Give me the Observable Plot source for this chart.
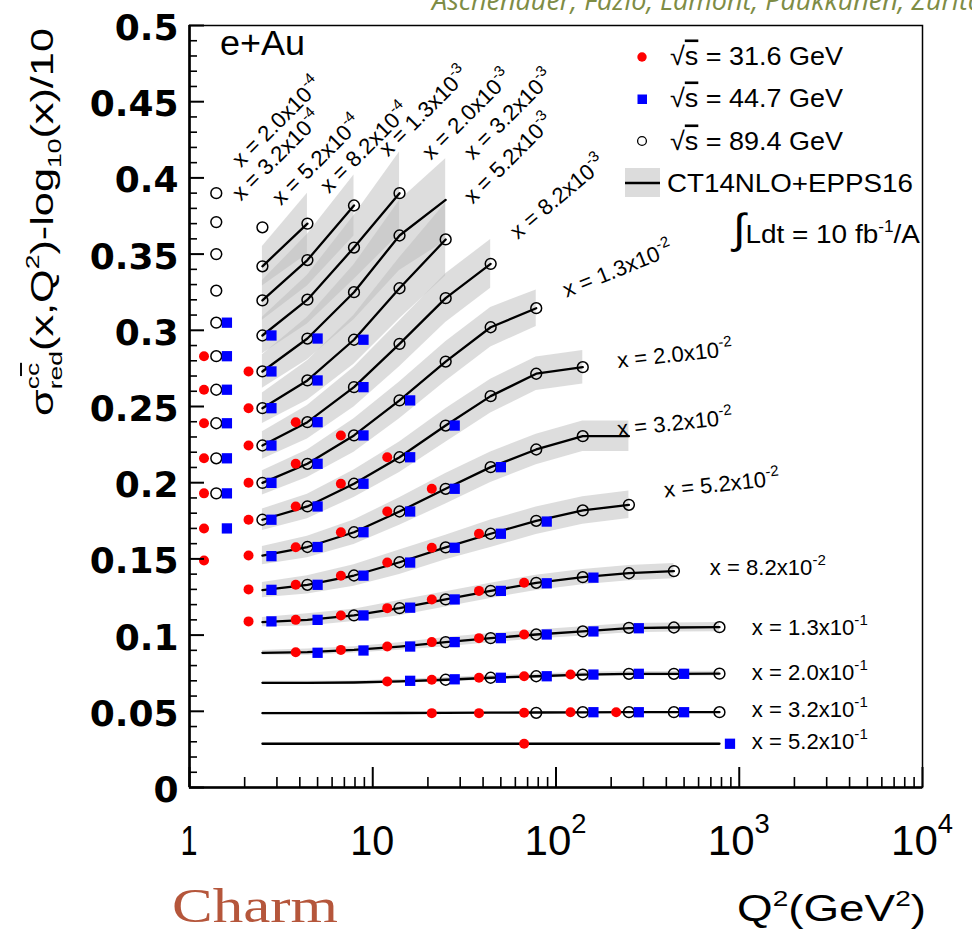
<!DOCTYPE html>
<html><head><meta charset="utf-8">
<script src="https://cdn.jsdelivr.net/npm/d3@7"></script>
<script src="https://cdn.jsdelivr.net/npm/@observablehq/plot@0.6"></script>
<style>body{margin:0;background:#fff;} #chart{position:relative;width:972px;height:931px;overflow:hidden;background:#fff;}</style>
</head><body><div id="chart"></div>
<script>
const _ = null;
// x bins (mantissa, exponent)
const xBinMant = ["2.0","3.2","5.2","8.2","1.3","2.0","3.2","5.2","8.2","1.3","2.0","3.2","5.2","8.2","1.3","2.0","3.2","5.2"];
const xBinExp  = [-4,-4,-4,-4,-3,-3,-3,-3,-3,-2,-2,-2,-2,-2,-1,-1,-1,-1];
// Q2 grids (GeV^2) for each beam energy
const q2Circ = [1.4, 2.5, 4.4, 7.9, 14, 25, 44, 78, 140, 250, 440, 780];   // sqrt(s)=89.4
const q2Red  = [1.2, 2.1, 3.8, 6.7, 12, 21, 38, 67, 120, 213, 380, 670];   // sqrt(s)=31.6
const q2Blue = [1.6, 2.8, 5.0, 8.9, 16, 28, 50, 89, 160, 283, 500, 890];   // sqrt(s)=44.7
// CT14NLO+EPPS16 central curve, one row per x bin, on q2Circ grid
const theory = [
 [],[],[],
 [_, .342, .370],
 [_, .3196, .3461, .3819],
 [_, .2966, .3201, .3543, .3900],
 [_, .2730, .2946, .3250, .3622, .3856],
 [_, .2489, .2671, .2938, .3276, .3596],
 [_, .2244, .2397, .2627, .2911, .3211, .3436],
 [_, .1999, .2124, .2310, .2540, .2795, .3020, .3145],
 [_, .1757, .1844, .1993, .2167, .2375, .2568, .2715, .2758],
 [_, .1522, .1578, .1675, .1811, .1960, .2102, .2218, .2305, .2305],
 [_, .1295, .1330, .1391, .1478, .1575, .1665, .1750, .1818, .1855],
 [_, .1085, .1100, .1129, .1177, .1234, .1290, .1343, .1380, .1406, .1420],
 [_, .0884, .0888, .0903, .0925, .0954, .0980, .1004, .1024, .1046, .1050, .1052],
 [_, .0687, .0687, .0689, .0696, .0707, .0720, .0730, .0741, .0746, .0746, .0747],
 [_, .0488, .0488, .0488, .0489, .0490, .0491, .0492, .0493, .0494, .0494, .0494],
 [_, .0287, .0287, .0287, .0287, .0287, .0287, .0287, .0287, .0287, .0287, .0287]
];
// half width of the uncertainty band
const bandHalf = [
 [],[],[],
 [_, .013, .020],
 [_, .013, .017, .020],
 [_, .012, .016, .021, .027],
 [_, .011, .014, .018, .023, .027],
 [_, .010, .013, .016, .020, .024],
 [_, .009, .011, .013, .015, .016, .016],
 [_, .008, .009, .011, .012, .013, .013, .012],
 [_, .007, .008, .009, .010, .011, .011, .011, .011],
 [_, .006, .007, .008, .009, .010, .010, .010, .010, .010],
 [_, .005, .006, .007, .008, .008, .009, .009, .009, .009],
 [_, .003, .004, .004, .005, .005, .005, .005, .005, .005, .005],
 [_, .0015, .002, .002, .0025, .003, .003, .003, .003, .003, .003, .003],
 [_, .001, .001, .001, .0012, .0015, .0015, .0015, .0015, .0015, .0015, .0015],
 [_, .0005, .0005, .0005, .0005, .0005, .0005, .0005, .0005, .0005, .0005, .0005],
 [_, .0005, .0005, .0005, .0005, .0005, .0005, .0005, .0005, .0005, .0005, .0005]
];
// pseudo-data, sqrt(s)=89.4 GeV (open circles), on q2Circ grid
const circVals = [
 [.390],
 [.371],
 [.350, .3676],
 [.326, .342, .370],
 [.305, .3196, .3461, .3819],
 [.283, .2966, .3201, .3543, .390],
 [.261, .273, .2946, .325, .3622],
 [.239, .2489, .2671, .2938, .3276, .3596],
 [.216, .2244, .2397, .2627, .2911, .3211, .3436],
 [.193, .1999, .2124, .231, .254, .2795, .302, .3145],
 [_, .1757, .1844, .1993, .2167, .2375, .2568, .2715, .2758],
 [_, _, .1578, .1675, .1811, .196, .2102, .2218, .2305],
 [_, _, .133, .1391, .1478, .1575, .1665, .175, .1818, .1855],
 [_, _, _, .1129, .1177, .1234, .129, .1343, .138, .1406, .142],
 [_, _, _, _, _, .0954, .098, .1004, .1024, .1048, .105, .1052],
 [_, _, _, _, _, .0707, .072, .073, .0741, .0746, .0746, .0747],
 [_, _, _, _, _, _, _, .049, .0494, .0494, .0494, .0494],
 []
];
// sqrt(s)=31.6 GeV (red dots), on q2Red grid
const redVals = [
 [],[],[],[],[],
 [.283],
 [.261, .273],
 [.239, .2489],
 [.216, .2244, .2397],
 [.193, .200, .2124, .231],
 [.170, .1757, .1844, .1993, .2167],
 [.149, .1522, .1577, .1675, .1811, .196],
 [_, .130, .133, .139, .1476, .1573, .1665],
 [_, .109, .110, .1129, .1177, .1234, .129, .1343],
 [_, _, .0888, .0903, .0925, .0954, .098, .1004],
 [_, _, _, _, .0696, .0707, .072, .073, .0741],
 [_, _, _, _, _, .0488, .0488, .049, .0494, .0494],
 [_, _, _, _, _, _, _, .0287]
];
// sqrt(s)=44.7 GeV (blue squares), on q2Blue grid
const blueVals = [
 [],[],[],[],
 [.305],
 [.283, .2966],
 [.261, .273, .2946],
 [.239, .2489, .2671, .2938],
 [.216, .2244, .2397, .2627],
 [.193, .1999, .2124, .231, .254],
 [.170, .1757, .1844, .1993, .2167, .2375],
 [_, .1518, .1578, .1675, .1811, .196, .2102],
 [_, .1297, .133, .139, .1476, .1573, .1665, .1745],
 [_, .109, .110, .1129, .118, .1234, .129, .134, .1377],
 [_, _, .0884, .0899, .0925, .0954, .098, .1004, .1024, .1045],
 [_, _, _, _, .070, .071, .072, .073, .0741, .0746, .0746],
 [_, _, _, _, _, _, _, _, .0494, .0494, .0494],
 [_, _, _, _, _, _, _, _, _, _, _, .0287]
];
// x-bin label anchors (Q2, y) and angle
const labelQ2 = [1.92, 1.92, 3.18, 5.80, 12.2, 20.9, 35.4, 35.4, 62.3, 115, 219, 219, 395, 695, 1178, 1178, 1178, 1178];
const labelY  = [0.406, 0.384, 0.381, 0.389, 0.413, 0.411, 0.411, 0.382, 0.359, 0.321, 0.275, 0.230, 0.190, 0.139, 0.0997, 0.0702, 0.0459, 0.0249];
const labelAngle = [-45,-45,-45,-45,-45,-45,-45,-45,-40,-22,-6,-6,-6,0,0,0,0,0];
// axis ticks
const yMajor = [0, 0.05, 0.1, 0.15, 0.2, 0.25, 0.3, 0.35, 0.4, 0.45, 0.5];
const yMinor = d3.range(0, 50).map(i => i / 100).filter(v => Math.round(v * 100) % 5 !== 0);
const xMajor = [1, 10, 100, 1000, 10000];
const xMajorExp = ["", "", "2", "3", "4"];
const xMinor = [1, 10, 100, 1000].flatMap(d => [2,3,4,5,6,7,8,9].map(m => m * d));

// ---- build tables
const lineData = [], bandData = [], circData = [], redData = [], blueData = [];
theory.forEach((row, b) => row.forEach((v, k) => {
  if (v != null) {
    lineData.push({b, q2: q2Circ[k], v});
    bandData.push({b, q2: q2Circ[k], lo: v - bandHalf[b][k], hi: v + bandHalf[b][k]});
  }
}));
circVals.forEach((row, b) => row.forEach((v, k) => { if (v != null) circData.push({b, q2: q2Circ[k], v}); }));
redVals.forEach((row, b) => row.forEach((v, k) => { if (v != null) redData.push({b, q2: q2Red[k], v}); }));
blueVals.forEach((row, b) => row.forEach((v, k) => { if (v != null) blueData.push({b, q2: q2Blue[k], v}); }));

const plot = Plot.plot({
  width: 972, height: 931,
  marginLeft: 189, marginRight: 50, marginTop: 25, marginBottom: 144,
  x: {type: "log", domain: [1, 1e4]},
  y: {domain: [0, 0.5]},
  style: {fontFamily: "'Liberation Sans', Arial, sans-serif", background: "white", color: "black"},
  marks: [
    Plot.areaY(bandData, {x: "q2", y1: "lo", y2: "hi", z: "b", fill: "#bcbcbc", fillOpacity: 0.5}),
    Plot.line(lineData, {x: "q2", y: "v", z: "b", stroke: "black", strokeWidth: 2.3}),
    Plot.dot(redData, {x: "q2", y: "v", r: 5, fill: "#ff0000"}),
    Plot.dot(circData, {x: "q2", y: "v", r: 5.4, stroke: "black", strokeWidth: 1.5, fill: "none"}),
    Plot.dot(blueData, {x: "q2", y: "v", r: 5.8, symbol: "square", fill: "#0000ff"}),
    Plot.axisY(yMajor, {anchor: "left", tickSize: 15, dx: 15, fill: null, strokeWidth: 2}),
    Plot.axisY(yMinor, {anchor: "left", tickSize: 8, dx: 8, fill: null, strokeWidth: 1.6}),
    Plot.axisY(yMajor, {anchor: "left", tickSize: 0, tickPadding: 11, dy: 3, label: null,
      tickFormat: d => String(+d.toFixed(2)), fontSize: 36, fontFamily: "DejaVu Sans", fontWeight: "bold"}),
    Plot.axisX(xMajor, {anchor: "bottom", tickSize: 20, dy: -20, fill: null, strokeWidth: 2}),
    Plot.axisX(xMinor, {anchor: "bottom", tickSize: 10, dy: -10, fill: null, strokeWidth: 1.6}),
    Plot.frame({stroke: "black", strokeWidth: 1.5}),
    Plot.ruleX([1], {stroke: "black", strokeWidth: 2.6}),
    Plot.ruleY([0], {stroke: "black", strokeWidth: 2.6})
  ]
});
document.getElementById("chart").appendChild(plot);

const sx = plot.scale("x"), sy = plot.scale("y");
const svg = d3.select(plot);
const ann = svg.append("g")
  .attr("font-family", "'Liberation Sans', Arial, sans-serif")
  .attr("fill", "black")
  .attr("text-anchor", "start");

function addRun(g, p, cx) {
  const t = g.append("text").attr("x", cx).attr("y", p.dy || 0).attr("font-size", p.size).attr("text-anchor", "start");
  if (p.family) t.attr("font-family", p.family);
  if (p.weight) t.attr("font-weight", p.weight);
  if (p.fstyle) t.attr("font-style", p.fstyle);
  if (p.fill) t.attr("fill", p.fill);
  (p.runs || [{t: p.t}]).forEach(r => {
    const s = t.append("tspan").text(r.t);
    if (r.over) s.style("text-decoration", "overline");
  });
  return t.node().getComputedTextLength();
}
function rich(pieces, {x, y, anchor = "start", rotate = 0, width = null}) {
  const g = ann.append("g").attr("transform", `translate(${x},${y}) rotate(${rotate})`);
  const inner = g.append("g");
  let cx = 0;
  for (const p of pieces) {
    if (p.stack) { let w = 0; for (const q of p.stack) w = Math.max(w, addRun(inner, q, cx)); cx += w; }
    else cx += addRun(inner, p, cx);
  }
  const sc = width ? width / cx : 1;
  const off = anchor === "middle" ? -cx * sc / 2 : anchor === "end" ? -cx * sc : 0;
  inner.attr("transform", `translate(${off},0) scale(${sc},1)`);
  return g;
}

// x tick labels
xMajor.forEach((v, i) => {
  const pieces = [{t: String(i === 0 ? 1 : 10), size: 43}];
  if (xMajorExp[i]) pieces.push({t: xMajorExp[i], size: 28, dy: -22});
  rich(pieces, {x: sx.apply(v), y: 855, anchor: "middle", width: xMajorExp[i] ? 62 : (i === 0 ? 17 : 44)});
});

// x-bin labels
xBinMant.forEach((m, i) => {
  rich([{t: `x = ${m}x10`, size: 22}, {t: String(xBinExp[i]), size: 15, dy: -10}],
       {x: sx.apply(labelQ2[i]), y: sy.apply(labelY[i]), rotate: labelAngle[i], width: 116});
});

// e+Au
rich([{t: "e+Au", size: 35}], {x: 220, y: 55, width: 85});

// legend
ann.append("circle").attr("cx", 642).attr("cy", 57).attr("r", 4.7).attr("fill", "#ff0000");
ann.append("rect").attr("x", 637.5).attr("y", 94.5).attr("width", 9.5).attr("height", 9.5).attr("fill", "#0000ff");
ann.append("circle").attr("cx", 642).attr("cy", 141).attr("r", 4.4).attr("fill", "none").attr("stroke", "black").attr("stroke-width", 1.3);
ann.append("rect").attr("x", 625).attr("y", 168).attr("width", 35).attr("height", 29).attr("fill", "#dcdcdc");
ann.append("line").attr("x1", 625).attr("x2", 660).attr("y1", 183).attr("y2", 183).attr("stroke", "black").attr("stroke-width", 2.4);
const sqrtPieces = e => [{runs: [{t: "√"}, {t: "s", over: true}, {t: ` = ${e} GeV`}], size: 26}];
rich(sqrtPieces("31.6"), {x: 670, y: 65, width: 173});
rich(sqrtPieces("44.7"), {x: 670, y: 107, width: 173});
rich(sqrtPieces("89.4"), {x: 670, y: 150, width: 173});
rich([{t: "CT14NLO+EPPS16", size: 26}], {x: 667, y: 192, width: 246});
rich([{t: "∫", size: 42}, {t: "Ldt = 10 fb", size: 26}, {t: "-1", size: 16, dy: -11}, {t: "/A", size: 26}], {x: 733, y: 243, width: 187});

// axis titles
rich([{t: "σ", size: 31},
      {stack: [{runs: [{t: "c"}, {t: "c", over: true}], size: 19, dy: -14}, {t: "red", size: 19, dy: 9}]},
      {t: "(x,Q", size: 31}, {t: "2", size: 19, dy: -14}, {t: ")-log", size: 31},
      {t: "10", size: 19, dy: 8}, {t: "(x)/10", size: 31}],
     {x: 53, y: 416, rotate: -90, width: 388});
rich([{t: "Q", size: 36}, {t: "2", size: 22, dy: -15}, {t: "(GeV", size: 36}, {t: "2", size: 22, dy: -15}, {t: ")", size: 36}],
     {x: 737, y: 921, width: 189});
rich([{t: "Charm", size: 48, family: "'Liberation Serif', serif", fill: "#b5563b"}], {x: 172, y: 922, width: 166});
rich([{t: "Aschenauer, Fazio, Lamont, Paukkunen, Zurita", size: 27, fstyle: "italic", fill: "#7e8c45", family: "'Open Sans', sans-serif"}], {x: 432, y: 10});
</script></body></html>
